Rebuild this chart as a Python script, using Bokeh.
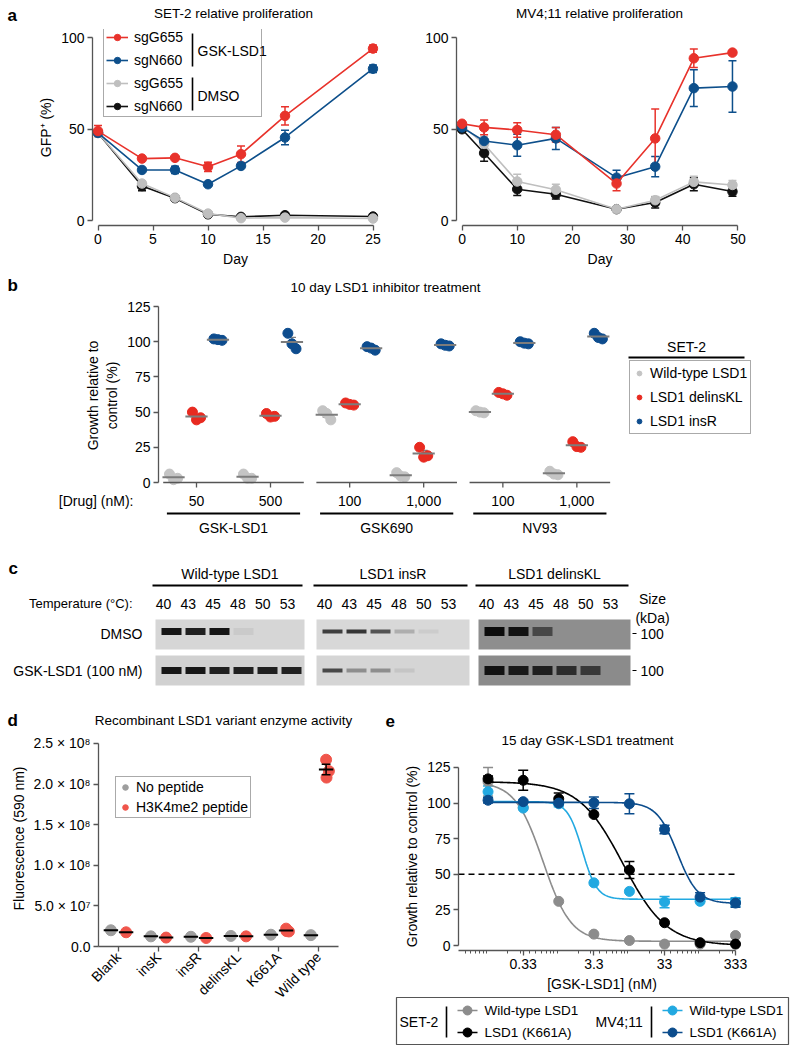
import math
import numpy as np
from bokeh.plotting import figure
from bokeh.models import (Range1d, FactorRange, Legend, LegendItem, Whisker, TeeHead,
                          ColumnDataSource, FixedTicker)
from bokeh.layouts import row, column
from bokeh.transform import dodge
from bokeh.core.properties import value
from bokeh.embed import file_html
from bokeh.resources import INLINE

FONT = "Liberation Sans"
AX = "#555555"

# ---------------- DATA ----------------
# Panel a: SET-2
set2_days = [0, 4, 7, 10, 13, 17, 25]
set2_gsk_sgG655 = [49, 34, 34.4, 29.5, 36.4, 57.3, 94]
set2_gsk_sgG655_err = [3, 0.8, 0.8, 2.5, 4.5, 5, 2]
set2_gsk_sgN660 = [48, 27.8, 27.8, 20, 30, 45.5, 83]
set2_gsk_sgN660_err = [1.5, 0.8, 2, 0.8, 0.8, 4, 2]
set2_dmso_sgG655 = [48, 20.4, 12.7, 4, 1.5, 1.8, 1.3]
set2_dmso_sgG655_err = [1, 1, 0.8, 0.5, 0.5, 0.5, 0.5]
set2_dmso_sgN660 = [48, 19, 12.4, 3.6, 2.2, 3.1, 2.4]
set2_dmso_sgN660_err = [1, 2.5, 0.8, 0.5, 0.5, 0.5, 0.5]
# Panel a: MV4;11
mv_days = [0, 4, 10, 17, 28, 35, 42, 49]
mv_gsk_sgG655 = [53, 51, 49.6, 47, 20.4, 45, 88.7, 91.8]
mv_gsk_sgG655_err = [1, 4, 4, 4, 4, 16, 5, 1]
mv_gsk_sgN660 = [51, 43.6, 41.3, 45, 23.6, 29.6, 72.4, 73.3]
mv_gsk_sgN660_err = [2, 6, 6, 6, 4, 5.5, 10, 14]
mv_dmso_sgG655 = [52, 42, 21.5, 17, 6.4, 11.3, 21.3, 19.6]
mv_dmso_sgG655_err = [1, 4, 4, 3, 0.5, 2, 3, 2.5]
mv_dmso_sgN660 = [50, 37, 17.3, 14.5, 6.4, 10, 20, 16]
mv_dmso_sgN660_err = [1, 4.5, 3.5, 2.5, 0.5, 3, 3.5, 2.5]

# Panel b
b_groups = ["GSK-LSD1", "GSK690", "NV93"]
b_doses = ["50", "500", "100", "1,000", "100", "1,000"]
b_dose_group = [0, 0, 1, 1, 2, 2]
b_wt = [[6, 3, 2], [6, 3, 3], [51, 44.5, 49], [7, 4, 4.5], [51, 49.5, 50], [8, 5.5, 6]]
b_delinsKL = [[50, 46, 44.5], [49, 47, 46.5], [56.5, 55, 55.5], [25, 19, 18], [64, 62, 63], [29, 25, 25.5]]
b_insR = [[102, 101, 101.5], [106, 95, 98.5], [96.5, 94, 95.5], [98.5, 97, 97.5], [100, 98.5, 99], [106, 102, 103]]
b_series = ["Wild-type LSD1", "LSD1 delinsKL", "LSD1 insR"]

# Panel c (relative band intensity per lane)
c_temps = ["40", "43", "45", "48", "50", "53"]
c_variants = ["Wild-type LSD1", "LSD1 insR", "LSD1 delinsKL"]
c_rows = ["DMSO", "GSK-LSD1 (100 nM)"]
c_dmso_bands = [[0.95, 0.9, 0.95, 0.06, 0, 0], [0.75, 0.8, 0.65, 0.2, 0.06, 0], [1.0, 0.95, 0.55, 0, 0, 0]]
c_gsk_bands = [[0.95, 0.95, 0.9, 0.9, 0.9, 0.9], [0.7, 0.35, 0.35, 0.08, 0, 0], [0.95, 0.9, 0.85, 0.75, 0.65, 0]]

# Panel d
d_variants = ["Blank", "insK", "insR", "delinsKL", "K661A", "Wild type"]
d_no_peptide = [2.0e7, 1.25e7, 1.2e7, 1.3e7, 1.45e7, 1.4e7]
d_h3k4me2 = [[1.75e7], [1.1e7], [1.05e7], [1.25e7], [2.2e7, 1.85e7, 1.9e7], [2.30e8, 2.16e8, 2.08e8]]

# Panel e
e_conc = [0.105, 0.33, 1.05, 3.3, 10.5, 33, 105, 333]
e_set2_wt = [115, 97, 31, 8, 3.5, 1, 1, 7]
e_set2_wt_err = [10, 0, 0, 0, 0, 0, 0, 0]
e_set2_k661a = [117, 116, 103, 92, 53, 16, 2, 1]
e_set2_k661a_err = [2, 7, 4, 0, 6, 0, 0, 0]
e_mv_wt = [108, 96.5, 99.5, 44, 38, 30.5, 31, 30.5]
e_mv_wt_err = [4, 0, 2, 0, 0, 4, 0, 3]
e_mv_k661a = [102, 101, 100, 100.2, 99.5, 81.5, 34, 29.8]
e_mv_k661a_err = [2, 1, 1, 4, 7, 3, 3, 3]
# 4-parameter logistic fits: top, bottom, IC50, hill
e_fit_set2_wt = (115, 3, 0.63, 2.2)
e_fit_set2_k661a = (115, 0, 8.5, 1.4)
e_fit_mv_wt = (101, 32.5, 2.26, 4.2)
e_fit_mv_k661a = (100.5, 29.5, 50, 3.0)


# ---------------- helpers ----------------
def fig(width, height, l, r, t, b, **kw):
    p = figure(width=width, height=height, min_border_left=l, min_border_right=r,
               min_border_top=t, min_border_bottom=b, toolbar_location=None,
               output_backend="svg", **kw)
    p.outline_line_color = None
    return p


def strip(width, x0, y0, y1, xr=None):
    """Text strip in page pixel coordinates (y downwards)."""
    return fig(width, y1 - y0, 0, 0, 0, 0, x_range=xr or Range1d(x0, x0 + width),
               y_range=Range1d(y1, y0), x_axis_type=None, y_axis_type=None)


def txt(p, xs, ys, texts, size="14px", align="left", bold=False):
    p.text(x=xs, y=ys, text=texts, text_font=value(FONT), text_font_size=size,
           text_align=align, text_baseline="middle", text_font_style="bold" if bold else "normal",
           text_color="black")


def style(p, fs="14px"):
    for ax in p.axis:
        ax.axis_line_color = AX
        ax.axis_line_width = 1.3
        ax.major_tick_line_color = AX
        ax.major_tick_line_width = 1.3
        ax.major_tick_out = 5
        ax.major_tick_in = 0
        ax.minor_tick_line_color = None
        ax.major_label_standoff = 3
        ax.axis_label_standoff = 4
        ax.major_label_text_font = FONT
        ax.major_label_text_font_size = fs
        ax.major_label_text_color = "black"
        ax.axis_label_text_font = FONT
        ax.axis_label_text_font_size = fs
        ax.axis_label_text_font_style = "normal"
        ax.axis_label_text_color = "black"
    for g in p.xgrid + p.ygrid:
        g.visible = False


def legend(items, location, **kw):
    base = dict(label_text_font=FONT, label_text_font_size="14px", label_text_color="black",
                margin=0, border_line_color=AX, border_line_width=1.2)
    base.update(kw)
    return Legend(items=items, location=location, **base)


def whisker(p, src, color, base="x", size=8, width=1.5):
    p.add_layout(Whisker(base=base, upper="hi", lower="lo", source=src, line_color=color,
                         line_width=width,
                         upper_head=TeeHead(size=size, line_color=color, line_width=width),
                         lower_head=TeeHead(size=size, line_color=color, line_width=width)))


C_RED, C_BLUE, C_GRAY, C_BLACK = "#e8322b", "#0d4f8b", "#bfbfbf", "#111111"
TITLE_FS = "13.5px"
LETTER_FS = "17px"

# ---------------- header strip a ----------------
sa = strip(794, 0, 0, 24)
txt(sa, [7], [15], ["a"], size=LETTER_FS, bold=True)
txt(sa, [233, 599], [13, 13], ["SET-2 relative proliferation", "MV4;11 relative proliferation"],
    size=TITLE_FS, align="center")


def panel_a(days, series, width, l, r, xr, xticks, ylabel):
    p = fig(width, 247, l, r, 5, 46, x_range=Range1d(*xr), y_range=Range1d(-2.5, 104.4))
    style(p)
    p.xaxis.ticker = FixedTicker(ticks=xticks)
    p.xaxis.bounds = (0, xticks[-1])
    p.yaxis.ticker = FixedTicker(ticks=[0, 50, 100])
    p.yaxis.bounds = (0, 100)
    p.xaxis.axis_label = "Day"
    if ylabel:
        p.yaxis.axis_label = ylabel
    rends = {}
    for key, vals, errs, color in series:
        src = ColumnDataSource(dict(x=days, y=vals, lo=[v - e for v, e in zip(vals, errs)],
                                    hi=[v + e for v, e in zip(vals, errs)]))
        ln = p.line("x", "y", source=src, line_color=color, line_width=1.6)
        sc = p.scatter("x", "y", source=src, size=9.5, fill_color=color, line_color=color)
        whisker(p, src, color)
        rends[key] = [ln, sc]
    return p, rends


# ---------------- panel a ----------------
pa1, ra = panel_a(set2_days, [
    ("k", set2_dmso_sgN660, set2_dmso_sgN660_err, C_BLACK),
    ("g", set2_dmso_sgG655, set2_dmso_sgG655_err, C_GRAY),
    ("b", set2_gsk_sgN660, set2_gsk_sgN660_err, C_BLUE),
    ("r", set2_gsk_sgG655, set2_gsk_sgG655_err, C_RED)],
    400, 92, 22, (-0.5, 25.5), [0, 5, 10, 15, 20, 25], "GFP\u207a (%)")
pa2, _ = panel_a(mv_days, [
    ("k", mv_dmso_sgN660, mv_dmso_sgN660_err, C_BLACK),
    ("g", mv_dmso_sgG655, mv_dmso_sgG655_err, C_GRAY),
    ("b", mv_gsk_sgN660, mv_gsk_sgN660_err, C_BLUE),
    ("r", mv_gsk_sgG655, mv_gsk_sgG655_err, C_RED)],
    394, 56, 51, (-1, 51), [0, 10, 20, 30, 40, 50], None)

leg_a = legend([LegendItem(label="sgG655", renderers=ra["r"]),
                LegendItem(label="sgN660", renderers=ra["b"]),
                LegendItem(label="sgG655", renderers=ra["g"]),
                LegendItem(label="sgN660", renderers=ra["k"])],
               (11, 108), glyph_width=22, glyph_height=16, label_height=16, label_standoff=6,
               spacing=7, padding=2, label_width=125, background_fill_alpha=0)
pa1.add_layout(leg_a)


def ax_(px):  # page x -> day (panel a left)
    return (px - 97.5) / 11.0


def ay_(py):  # page y -> %
    return (220.4 - py) / 1.8335


br_x = ax_(192)
pa1.segment(x0=[br_x, br_x], x1=[br_x, br_x], y0=[ay_(33), ay_(77)], y1=[ay_(66), ay_(110)],
            line_color="black", line_width=1.6, level="overlay")
pa1.text(x=[ax_(197), ax_(197)], y=[ay_(50), ay_(95)], text=["GSK-LSD1", "DMSO"],
         text_font=value(FONT), text_font_size="14px", text_baseline="middle", level="overlay")

# ---------------- panel b ----------------
B_PX = 74.0
B_X0 = 196.0
B_S = 1.4076
sb = strip(794, 0, 271, 300)
txt(sb, [7], [285], ["b"], size=LETTER_FS, bold=True)
txt(sb, [385], [287], ["10 day LSD1 inhibitor treatment"], size=TITLE_FS, align="center")

pb = fig(794, 190, 158, 0, 0, 0, x_range=Range1d((158 - B_X0) / B_PX, (794 - B_X0) / B_PX),
         y_range=Range1d(-(490 - 482) / B_S, (482 - 300) / B_S), x_axis_type=None)
style(pb)
pb.yaxis.ticker = FixedTicker(ticks=[0, 25, 50, 75, 100, 125])
pb.yaxis.bounds = (0, 125)
pb.yaxis.axis_label = "Growth relative to\ncontrol (%)"

dose_x = [i + 0.07 * g for i, g in enumerate(b_dose_group)]
group_c = [float(np.mean([x for x, g in zip(dose_x, b_dose_group) if g == k])) for k in range(len(b_groups))]
b_offsets = [-0.31, 0.0, 0.29]
b_jit = [-0.055, 0.055, 0.0]
b_colors = ["#c4c4c4", "#e82a20", "#0d4c8e"]
b_rends = []
for reps, col, off in zip([b_wt, b_delinsKL, b_insR], b_colors, b_offsets):
    xs, ys = [], []
    for d, rr in enumerate(reps):
        for j, v in enumerate(rr):
            xs.append(dose_x[d] + off + b_jit[j])
            ys.append(v)
    b_rends.append(pb.scatter(xs, ys, size=10, fill_color=col, line_color=col))
for reps, off in zip([b_wt, b_delinsKL, b_insR], b_offsets):
    mx = [dose_x[d] + off for d in range(len(reps))]
    means = [float(np.mean(r)) for r in reps]
    sems = [float(np.std(r, ddof=1) / math.sqrt(len(r))) for r in reps]
    pb.rect(x=mx, y=means, width=0.3, height=2, height_units="screen", fill_color="#7c7c7c", line_color=None)
    src = ColumnDataSource(dict(x=mx, lo=[m - s for m, s in zip(means, sems)], hi=[m + s for m, s in zip(means, sems)]))
    whisker(pb, src, "#7c7c7c", size=8, width=1.2)

# broken x axis with ticks
pb.segment(x0=[c - 0.95 for c in group_c], x1=[c + 0.95 for c in group_c], y0=[0] * 3, y1=[0] * 3,
           line_color=AX, line_width=1.3)
pb.segment(x0=dose_x, x1=dose_x, y0=[0] * 6, y1=[-5 / B_S] * 6, line_color=AX, line_width=1.3)
leg_b = legend([LegendItem(label=s, renderers=[r]) for s, r in zip(b_series, b_rends)],
               (471, 490 - 434), glyph_width=12, glyph_height=18, label_height=18, label_standoff=5,
               spacing=6, padding=3)
pb.add_layout(leg_b)
pb.text(x=[(686 - B_X0) / B_PX], y=[(482 - 346) / B_S], text=["SET-2"], text_font=value(FONT),
        text_font_size="14px", text_align="center", text_baseline="middle")
pb.segment(x0=[(628 - B_X0) / B_PX], x1=[(744 - B_X0) / B_PX], y0=[(482 - 357) / B_S], y1=[(482 - 357) / B_S],
           line_color="black", line_width=1.8)

# dose / group labels under panel b (x in the same units as panel b)
sb2 = strip(794, 0, 490, 548, xr=Range1d(-B_X0 / B_PX, (794 - B_X0) / B_PX))
txt(sb2, dose_x, [500] * 6, b_doses, align="center")
txt(sb2, [(133 - B_X0) / B_PX], [500], ["[Drug] (nM):"], align="right")
sb2.segment(x0=[c - 0.9 for c in group_c], x1=[c + 0.9 for c in group_c], y0=[513] * 3, y1=[513] * 3,
            line_color="black", line_width=1.8)
txt(sb2, group_c, [527] * 3, b_groups, align="center")

# ---------------- panel c ----------------
pc = strip(794, 0, 548, 700)
gel_left = [155, 316, 478]
gel_right = [304, 469, 630]
row_top = [619, 655]
row_bot = [649, 685]
row_mid = [633, 670]
gel_bg = [["#d6d6d6", "#d8d8d8", "#8e8e8e"], ["#d1d1d1", "#d5d5d5", "#8b8b8b"]]
band_h = [7, 4, 9]
for ri in range(2):
    pc.quad(left=gel_left, right=gel_right, top=[row_top[ri]] * 3, bottom=[row_bot[ri]] * 3,
            fill_color=gel_bg[ri], line_color=None)
for ri, bands in enumerate([c_dmso_bands, c_gsk_bands]):
    bx, by, bw, bh, ba = [], [], [], [], []
    for gi, lanes in enumerate(bands):
        for li, inten in enumerate(lanes):
            if inten <= 0:
                continue
            bx.append(gel_left[gi] + 16 + 24 * li)
            by.append(row_mid[ri] - (2 if ri == 0 else 0))
            bw.append(20)
            bh.append(band_h[gi])
            ba.append(inten)
    pc.rect(x=bx, y=by, width=bw, height=bh, fill_color="#0c0c0c", fill_alpha=ba, line_color=None)
g_mid = [(a + b) / 2 for a, b in zip(gel_left, gel_right)]
txt(pc, g_mid, [573] * 3, c_variants, align="center")
pc.segment(x0=[g - 3 for g in gel_left], x1=[g - 2 for g in gel_right], y0=[585] * 3, y1=[585] * 3,
           line_color="black", line_width=1.8)
tx, ty, tt = [], [], []
for gl in gel_left:
    for li, t in enumerate(c_temps):
        tx.append(gl + 8 + 24.8 * li)
        ty.append(603)
        tt.append(t)
txt(pc, tx, ty, tt, align="center")
txt(pc, [132], [603], ["Temperature (\u00b0C):"], size="13px", align="right")
txt(pc, [142, 142], row_mid, c_rows, align="right")
txt(pc, [652, 652], [598, 617], ["Size", "(kDa)"], align="center")
pc.segment(x0=[gel_right[2] + 2] * 2, x1=[gel_right[2] + 6] * 2, y0=row_mid, y1=row_mid,
           line_color="black", line_width=1)
txt(pc, [640, 640], row_mid, ["100", "100"])
txt(pc, [8], [568], ["c"], size=LETTER_FS, bold=True)

# ---------------- header strip d / e ----------------
sde = strip(794, 0, 700, 730)
txt(sde, [7, 385], [720, 720], ["d", "e"], size=LETTER_FS, bold=True)
txt(sde, [223], [720], ["Recombinant LSD1 variant enzyme activity"], size=TITLE_FS, align="center")

# ---------------- panel d ----------------
pd_ = fig(395, 318, 98, 57, 0, 102, x_range=FactorRange(factors=d_variants, range_padding=0),
          y_range=Range1d(0, 2.66e8))
style(pd_)
pd_.yaxis.ticker = FixedTicker(ticks=[0, 5e7, 1e8, 1.5e8, 2e8, 2.5e8])
pd_.yaxis.major_label_overrides = {0: "0.0", 5e7: "5.0 \u00d7 10\u2077", 1e8: "1.0 \u00d7 10\u2078",
                                   1.5e8: "1.5 \u00d7 10\u2078", 2e8: "2.0 \u00d7 10\u2078",
                                   2.5e8: "2.5 \u00d7 10\u2078"}
pd_.yaxis.bounds = (0, 2.5e8)
pd_.yaxis.axis_label = "Fluorescence (590 nm)"
pd_.xaxis.major_label_orientation = math.pi / 4
D_OFF = 0.19
d_gray, d_red = "#9e9e9e", "#f0554b"
src_g = ColumnDataSource(dict(v=d_variants, y=d_no_peptide))
rg = pd_.scatter(x=dodge("v", -D_OFF, range=pd_.x_range), y="y", source=src_g, size=11,
                 fill_color=d_gray, line_color=d_gray)
d_jit = [-0.06, 0.07, 0.01]
red_rends = []
for j in range(3):
    vv = [v for v, reps in zip(d_variants, d_h3k4me2) if len(reps) > j]
    yy = [reps[j] for reps in d_h3k4me2 if len(reps) > j]
    src = ColumnDataSource(dict(v=vv, y=yy))
    red_rends.append(pd_.scatter(x=dodge("v", D_OFF + (d_jit[j] if len(vv) < 6 else 0), range=pd_.x_range),
                                 y="y", source=src, size=11, fill_color=d_red, line_color=d_red))
d_red_mean = [float(np.mean(r)) for r in d_h3k4me2]
d_red_sem = [float(np.std(r, ddof=1) / math.sqrt(len(r))) if len(r) > 1 else 0 for r in d_h3k4me2]
pd_.rect(x=dodge("v", -D_OFF, range=pd_.x_range), y="y", source=src_g, width=0.36, height=2,
         height_units="screen", fill_color="black", line_color=None)
src_m = ColumnDataSource(dict(v=d_variants, y=d_red_mean))
pd_.rect(x=dodge("v", D_OFF, range=pd_.x_range), y="y", source=src_m, width=0.36, height=2,
         height_units="screen", fill_color="black", line_color=None)
sel = [i for i, s in enumerate(d_red_sem) if s > 2e6]
src_e = ColumnDataSource(dict(v=[d_variants[i] for i in sel], lo=[d_red_mean[i] - d_red_sem[i] for i in sel],
                              hi=[d_red_mean[i] + d_red_sem[i] for i in sel]))
pd_.segment(x0=dodge("v", D_OFF, range=pd_.x_range), x1=dodge("v", D_OFF, range=pd_.x_range),
            y0="lo", y1="hi", source=src_e, line_color="black", line_width=1.5)
for fld in ["lo", "hi"]:
    pd_.rect(x=dodge("v", D_OFF, range=pd_.x_range), y=fld, source=src_e, width=0.22, height=1.5,
             height_units="screen", fill_color="black", line_color=None)
leg_d = legend([LegendItem(label="No peptide", renderers=[rg]),
                LegendItem(label="H3K4me2 peptide", renderers=[red_rends[0]])],
               (17, 128), glyph_width=14, glyph_height=16, label_height=16, label_standoff=4,
               spacing=4, padding=2)
pd_.add_layout(leg_d)

# ---------------- panel e ----------------
se = strip(399, 395, 730, 752)
txt(se, [587], [740], ["15 day GSK-LSD1 treatment"], size=TITLE_FS, align="center")

pe = fig(399, 242, 63, 49, 10, 44, x_axis_type="log", x_range=Range1d(0.0401, 461),
         y_range=Range1d(-3.5, 128.5))
style(pe)
pe.yaxis.ticker = FixedTicker(ticks=[0, 25, 50, 75, 100, 125])
pe.yaxis.bounds = (0, 125)
pe.yaxis.axis_label = "Growth relative to control (%)"
e_minor = [m * 10.0 ** k for k in range(-2, 3) for m in range(1, 10) if 0.0401 <= m * 10.0 ** k <= 333]
pe.xaxis.ticker = FixedTicker(ticks=[0.33, 3.3, 33, 333], minor_ticks=e_minor)
pe.xaxis.major_label_overrides = {0.33: "0.33", 3.3: "3.3", 33: "33", 333: "333"}
pe.xaxis.bounds = (0.0401, 333)
pe.xaxis.minor_tick_line_color = AX
pe.xaxis.minor_tick_out = 3
pe.xaxis.minor_tick_in = 0
pe.xaxis.axis_label = "[GSK-LSD1] (nM)"
pe.line(x=[0.0401, e_conc[-1]], y=[50, 50], line_color="black", line_width=1.6, line_dash="6 4")

e_series = [
    ("SET-2", "Wild-type LSD1", e_set2_wt, e_set2_wt_err, e_fit_set2_wt, "#8c8c8c"),
    ("SET-2", "LSD1 (K661A)", e_set2_k661a, e_set2_k661a_err, e_fit_set2_k661a, "#000000"),
    ("MV4;11", "Wild-type LSD1", e_mv_wt, e_mv_wt_err, e_fit_mv_wt, "#22a9e1"),
    ("MV4;11", "LSD1 (K661A)", e_mv_k661a, e_mv_k661a_err, e_fit_mv_k661a, "#0b4c8c"),
]
xs_fit = np.logspace(math.log10(e_conc[0]), math.log10(e_conc[-1]), 240)
for grp, lab, vals, errs, (top, bot, ic50, hill), col in e_series:
    yfit = bot + (top - bot) / (1 + (xs_fit / ic50) ** hill)
    pe.line(xs_fit, yfit, line_color=col, line_width=1.6)
    pe.scatter(e_conc, vals, size=10, fill_color=col, line_color=col)
    sel = [i for i, e in enumerate(errs) if e > 0]
    src = ColumnDataSource(dict(x=[e_conc[i] for i in sel], lo=[vals[i] - errs[i] for i in sel],
                                hi=[vals[i] + errs[i] for i in sel]))
    whisker(pe, src, col, size=10, width=1.5)

# ---------------- legend for panel e ----------------
pl = fig(399, 54, 1, 6, 3, 4, x_range=Range1d(396, 788), y_range=Range1d(1044, 997),
         x_axis_type=None, y_axis_type=None)
pl.outline_line_color = AX
pl.outline_line_width = 1.2
grp_names = ["SET-2", "MV4;11"]
grp_x = [399, 595]
sep_x = [446, 651]
row_y = [1010, 1032]
for gi, gname in enumerate(grp_names):
    txt(pl, [grp_x[gi]], [(row_y[0] + row_y[1]) / 2], [gname])
    pl.segment(x0=[sep_x[gi]], x1=[sep_x[gi]], y0=[row_y[0] - 4], y1=[row_y[1] + 5], line_color="black",
               line_width=1.6)
    items = [s for s in e_series if s[0] == gname]
    for ri, s in enumerate(items):
        pl.line(x=[sep_x[gi] + 11, sep_x[gi] + 31], y=[row_y[ri]] * 2, line_color=s[5], line_width=1.6)
        pl.scatter(x=[sep_x[gi] + 21], y=[row_y[ri]], size=9, fill_color=s[5], line_color=s[5])
        txt(pl, [sep_x[gi] + 38], [row_y[ri]], [s[1]], size="13.5px")

layout = column(row(sa), row(pa1, pa2), row(sb), row(pb), row(sb2), row(pc), row(sde),
                row(pd_, column(row(se), row(pe), row(pl))))
open("out.html", "w").write(file_html(layout, INLINE))
